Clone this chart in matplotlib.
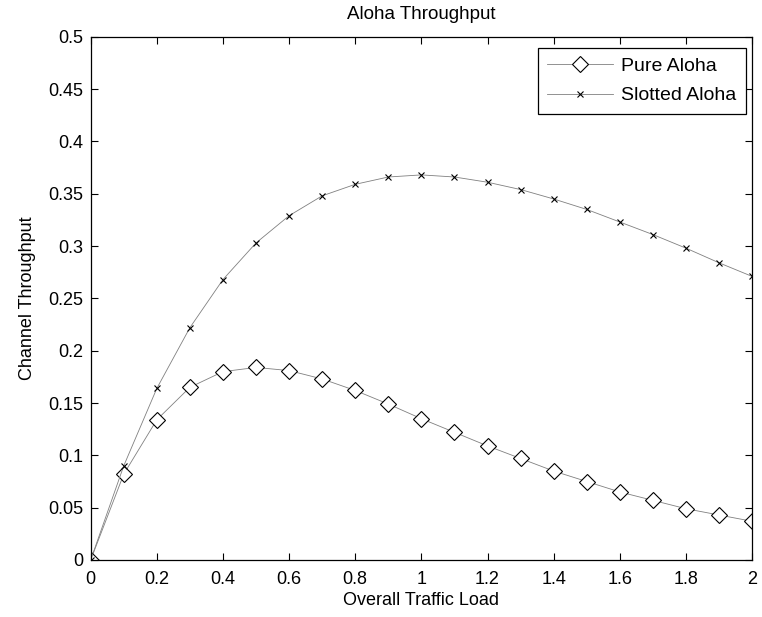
import numpy as np
import matplotlib.pyplot as plt

plt.rcParams['font.family'] = ['Liberation Sans', 'DejaVu Sans']

load = [0.0, 0.1, 0.2, 0.3, 0.4, 0.5, 0.6, 0.7, 0.8, 0.9, 1.0,
        1.1, 1.2, 1.3, 1.4, 1.5, 1.6, 1.7, 1.8, 1.9, 2.0]
pure = [0.0, 0.082, 0.134, 0.165, 0.180, 0.184, 0.181, 0.173, 0.162, 0.149, 0.135,
        0.122, 0.109, 0.097, 0.085, 0.075, 0.065, 0.057, 0.049, 0.043, 0.037]
slotted = [0.0, 0.090, 0.164, 0.222, 0.268, 0.303, 0.329, 0.348, 0.359, 0.366, 0.368,
           0.366, 0.361, 0.354, 0.345, 0.335, 0.323, 0.311, 0.298, 0.284, 0.271]

fig = plt.figure(figsize=(7.62, 6.17), dpi=100)
ax = fig.add_axes([0.119, 0.0924, 0.868, 0.848])

ax.plot(load, pure, color='#808080', lw=0.6, marker='D', ms=8,
        mfc='white', mec='black', mew=0.8, label='Pure Aloha')
ax.plot(load, slotted, color='#808080', lw=0.6, marker='x', ms=5,
        mec='black', mew=0.8, label='Slotted Aloha')

ax.set_xlim(0, 2)
ax.set_ylim(0, 0.5)
ax.set_xticks(np.arange(0, 2.01, 0.2))
ax.set_xticklabels(['0', '0.2', '0.4', '0.6', '0.8', '1', '1.2', '1.4', '1.6', '1.8', '2'])
ax.set_yticks(np.arange(0, 0.501, 0.05))
ax.set_yticklabels(['0', '0.05', '0.1', '0.15', '0.2', '0.25', '0.3', '0.35', '0.4', '0.45', '0.5'])
ax.tick_params(direction='in', length=5, labelsize=13, top=True, right=True)
ax.tick_params(axis='x', pad=8)
ax.tick_params(axis='y', pad=5)
for s in ax.spines.values():
    s.set_linewidth(0.9)

ax.set_xlabel('Overall Traffic Load', fontsize=13, labelpad=3)
ax.set_ylabel('Channel Throughput', fontsize=13, labelpad=9)
ax.set_title('Aloha Throughput', fontsize=13.5, pad=13)

leg = ax.legend(loc='upper right', bbox_to_anchor=(0.991, 0.979), fontsize=14,
                fancybox=False, framealpha=1, edgecolor='black', borderaxespad=0,
                handlelength=3.4, labelspacing=0.6, borderpad=0.5, handletextpad=0.4)
leg.get_frame().set_linewidth(0.9)

fig.savefig('out.png', dpi=100)
